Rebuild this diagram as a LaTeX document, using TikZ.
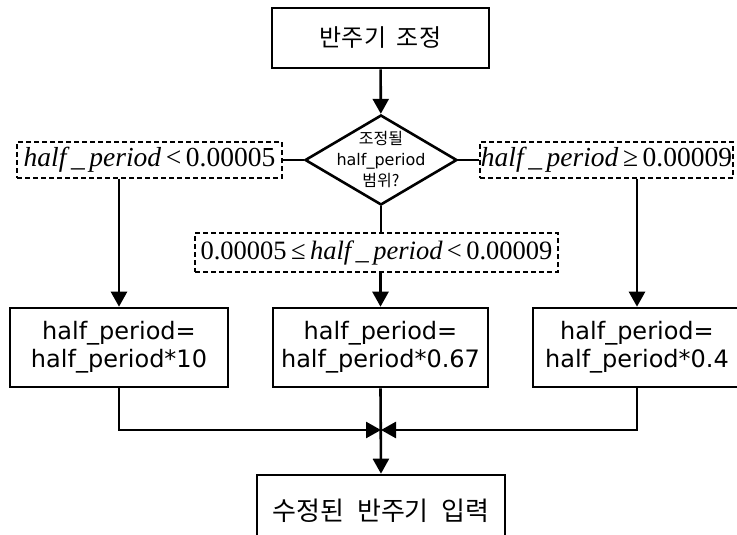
\documentclass[tikz,border=0pt]{standalone}
\usepackage{fontspec}
\setmainfont{DejaVu Sans}
\newfontfamily\kr{Noto Sans CJK KR}
\newfontfamily\tms{Liberation Serif}
\usetikzlibrary{arrows.meta,shapes.geometric}

\begin{document}
\begin{tikzpicture}[x=1pt,y=-1pt,
  box/.style={draw,line width=2.6pt,inner sep=0pt,align=center,font=\fontsize{24}{28}\selectfont},
  cond/.style={draw,dash pattern=on 5pt off 3pt,line width=1.2pt,inner sep=0pt,
    font=\tms\fontsize{27.5}{27.5}\selectfont,minimum height=36pt},
  flow/.style={line width=2.6pt},
  arr/.style={flow,-{Triangle[length=15pt,width=16pt]}},
]
\useasboundingbox (0,0) rectangle (737,535);
\clip (0,0) rectangle (737,535);

% start block
\node[box,minimum width=217pt,minimum height=60pt,font=\kr\fontsize{24}{24}\selectfont]
  (start) at (380.5,38) {반주기\hspace{0.45em}조정};

% decision
\node[diamond,draw,line width=2.6pt,minimum width=152pt,minimum height=90pt,inner sep=0pt]
  (dec) at (381,160) {};
\node[align=center,font=\fontsize{16}{21}\selectfont] (dectxt) at (dec)
  {{\kr 조정될}\\half\_period\\{\kr 범위?}};

% range conditions
\node[cond,minimum width=265pt] (lo) at (149.5,160)
  {\textit{half\,\_\,period}\,<\,0.00005};
\node[cond,minimum width=253pt] (hi) at (606.5,160)
  {\textit{half\,\_\,period}\,≥\,0.00009};
\node[cond,minimum width=363pt,minimum height=39pt,font=\tms\fontsize{26.5}{26.5}\selectfont]
  (mid) at (376.5,252.5)
  {0.00005\,≤\,\textit{half\,\_\,period}\,<\,0.00009};

% update blocks
\node[box,minimum width=218pt,minimum height=79pt] (lb) at (119,347.5)
  {half\_period=\\half\_period*10};
\node[box,minimum width=215pt,minimum height=79pt] (mb) at (380.5,347.5)
  {half\_period=\\half\_period*0.67};
\node[box,minimum width=208pt,minimum height=79pt] (rb) at (637,347.5)
  {half\_period=\\half\_period*0.4};

% merge and output
\coordinate (m) at (381,430);
\node[box,minimum width=248pt,minimum height=72pt,font=\kr\fontsize{26}{26}\selectfont]
  (end) at (381,511) {수정된\hspace{0.5em}반주기\hspace{0.5em}입력};

% connectors
\draw[arr] (start) -- (dec);
\draw[flow] (dec.west) -- (lo.east);
\draw[flow] (dec.east) -- (hi.west);
\draw[flow] (dec.south) -- (dec.south |- mid.north);
\draw[arr] (lb.north |- lo.south) -- (lb.north);
\draw[arr] (rb.north |- hi.south) -- (rb.north);
\draw[arr] (mb.north |- mid.south) -- (mb.north);
\draw[arr] (lb.south) |- (m);
\draw[arr] (rb.south) |- (m);
\draw[arr] (mb.south) -- (end.north);
\end{tikzpicture}
\end{document}
